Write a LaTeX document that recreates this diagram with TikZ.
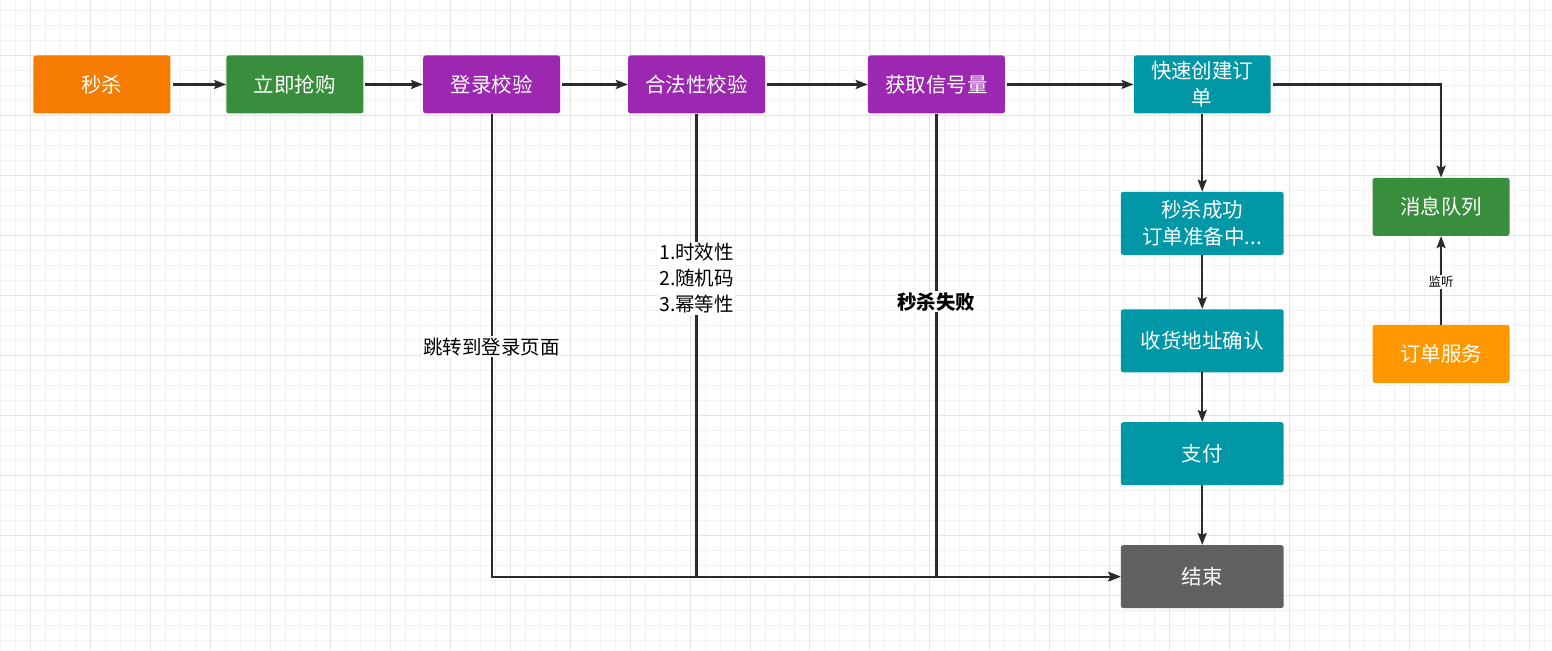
\documentclass[tikz,border=0pt]{standalone}
\usepackage{fontspec}
\setmainfont{Noto Sans CJK SC}
\usetikzlibrary{arrows.meta,positioning}
\definecolor{seckill}{HTML}{F57C00}
\definecolor{service}{HTML}{FF9800}
\definecolor{okgreen}{HTML}{388E3C}
\definecolor{checkpurple}{HTML}{9C27B0}
\definecolor{orderteal}{HTML}{0097A7}
\definecolor{endgray}{HTML}{616161}
\definecolor{linegray}{HTML}{2B2B2B}
\definecolor{gridminor}{HTML}{F2F2F2}
\definecolor{gridmajor}{HTML}{E4E4E4}
\tikzset{every picture/.style={>={Stealth[length=12pt,width=9pt,inset=2pt]}}}

\begin{document}
\begin{tikzpicture}[
    x=1pt, y=-1pt,
    box/.style={rectangle, rounded corners=2.5pt, minimum width=137pt,
        minimum height=58pt, inner sep=0pt, align=center, text=white,
        font=\fontsize{20.5}{27}\selectfont},
    widebox/.style={box, minimum width=163pt, minimum height=63pt},
    flow/.style={->, line width=2.2pt, draw=linegray},
    note/.style={fill=white, text=black, inner sep=1.5pt, align=center,
        font=\fontsize{19.5}{26}\selectfont}
]
    % background grid
    \fill[white] (0,0) rectangle (1552,650);
    \foreach \x in {0,15,...,1550}
        \draw[gridminor, line width=1pt] (\x,0) -- (\x,650);
    \foreach \y in {10,25,...,645}
        \draw[gridminor, line width=1pt] (0,\y) -- (1552,\y);
    \foreach \x in {30,90,...,1550}
        \draw[gridmajor, line width=1pt] (\x,0) -- (\x,650);
    \foreach \y in {55,115,...,645}
        \draw[gridmajor, line width=1pt] (0,\y) -- (1552,\y);
    \useasboundingbox (0,0) rectangle (1552,650);

    % main line
    \node[box, fill=seckill] (kill) at (101.5,84) {秒杀};
    \node[box, fill=okgreen] (buy) at (294.5,84) {立即抢购};
    \node[box, fill=checkpurple] (login) at (491.5,84) {登录校验};
    \node[box, fill=checkpurple] (legal) at (696.5,84) {合法性校验};
    \node[box, fill=checkpurple] (sema) at (936.5,84) {获取信号量};
    \node[box, fill=orderteal] (order) at (1202.5,84) {快速创建订\\单};

    % order steps
    \node[widebox, fill=orderteal] (ready) at (1202.5,223) {秒杀成功\\订单准备中...};
    \node[widebox, fill=orderteal] (addr) at (1202.5,340.5) {收货地址确认};
    \node[widebox, fill=orderteal] (pay) at (1202.5,453.5) {支付};
    \node[widebox, fill=endgray] (end) at (1202.5,576.5) {结束};

    % queue side
    \node[box, fill=okgreen] (mq) at (1441.5,206.5) {消息队列};
    \node[box, fill=service] (srv) at (1441.5,353.5) {订单服务};

    \draw[flow] ([xshift=2pt]kill.east) -- (buy);
    \draw[flow] ([xshift=2pt]buy.east) -- (login);
    \draw[flow] ([xshift=2pt]login.east) -- (legal);
    \draw[flow] ([xshift=2pt]legal.east) -- (sema);
    \draw[flow] ([xshift=2pt]sema.east) -- (order);
    \draw[flow] ([xshift=2pt]order.east) -| (mq.north);
    \draw[flow] (order) -- (ready);
    \draw[flow] (ready) -- (addr);
    \draw[flow] (addr) -- (pay);
    \draw[flow] (pay) -- (end);

    % failures
    \draw[flow] (login.south) |- (end.west)
        node[note, pos=.252] {跳转到登录页面};
    \draw[flow] (legal.south) |- (end.west)
        node[note, pos=.178] {1.时效性\\2.随机码\\3.幂等性};
    \draw[flow] (sema.south) |- (end.west)
        node[note, pos=.203, font=\fontsize{19.5}{26}\selectfont\bfseries] {秒杀失败};

    \draw[flow] (srv) -- (mq)
        node[note, pos=.48, font=\fontsize{12.5}{15}\selectfont] {监听};
\end{tikzpicture}
\end{document}
